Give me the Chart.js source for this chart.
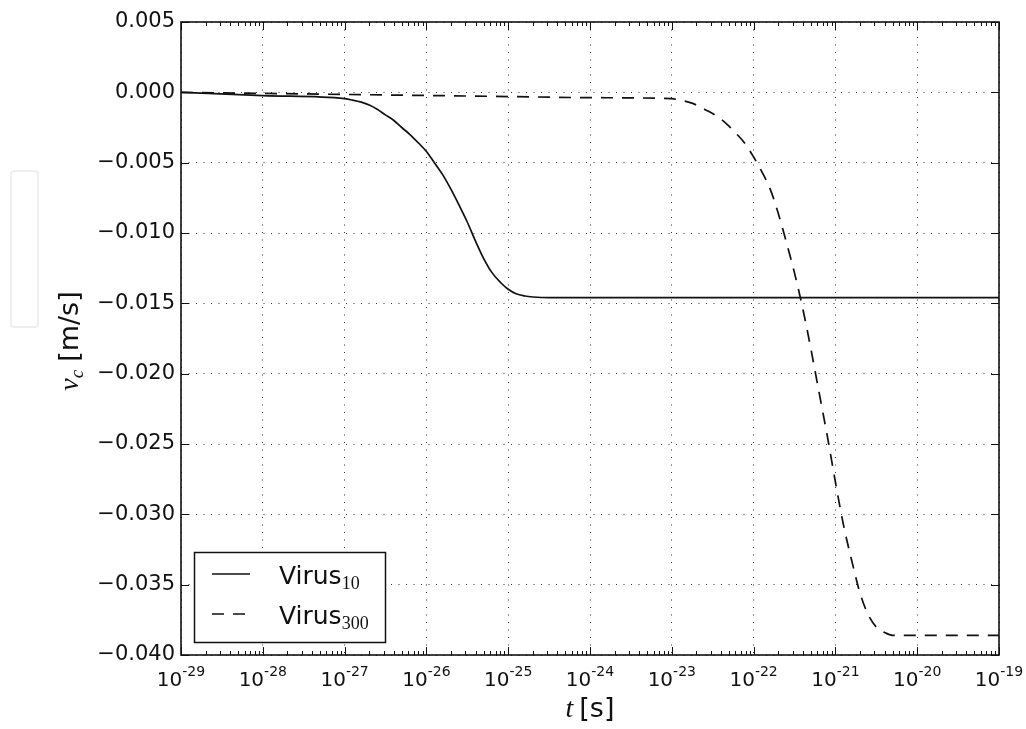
<!DOCTYPE html>
<html>
<head>
<meta charset="utf-8">
<script src="https://cdn.jsdelivr.net/npm/chart.js@4.4.0/dist/chart.umd.min.js"></script>
<style>
  html, body { margin: 0; padding: 0; background: #fff; }
  #wrap { position: relative; width: 1026px; height: 729px; }
  #side { position: absolute; left: 10px; top: 170px; width: 25px; height: 154px; border: 2px solid #eef0f0; border-radius: 4px; }
</style>
</head>
<body>
<div id="wrap">
  <canvas id="velocityChart" width="1026" height="729"></canvas>
  <div id="side"></div>
</div>
<script>
// major x ticks, as powers of ten (seconds)
const decades = [-29, -28, -27, -26, -25, -24, -23, -22, -21, -20, -19];
const yMin = -0.040;
const yMax = 0.005;
const yStep = 0.005;

// Virus_10 : centre velocity vs time
const tVirus10 = [1e-29, 1e-28, 1e-27, 1.25e-27, 1.6e-27, 2e-27, 2.5e-27, 3.15e-27, 4e-27, 5e-27, 6.3e-27, 8e-27,
  1e-26, 1.25e-26, 1.6e-26, 2e-26, 2.5e-26, 3.15e-26, 4e-26, 5e-26, 6.3e-26, 8e-26,
  1e-25, 1.25e-25, 1.6e-25, 2e-25, 3.15e-25, 1e-24, 1e-23, 1e-22, 1e-21, 1e-20, 1e-19];
const vVirus10 = [0, -0.00023, -0.00045, -0.00055, -0.0007, -0.0009, -0.0012, -0.0016, -0.0020, -0.0025, -0.0030, -0.0036,
  -0.0042, -0.0050, -0.0059, -0.0069, -0.0080, -0.0092, -0.0106, -0.0118, -0.0128, -0.0135,
  -0.0140, -0.01432, -0.01448, -0.01455, -0.0146, -0.0146, -0.0146, -0.0146, -0.0146, -0.0146, -0.0146];

// Virus_300
const tVirus300 = [1e-29, 1e-27, 1e-25, 1e-24, 1e-23, 1.25e-23, 1.6e-23, 2e-23, 2.5e-23, 3.15e-23, 4e-23, 5e-23, 6.3e-23, 8e-23,
  1e-22, 1.25e-22, 1.6e-22, 2e-22, 2.5e-22, 3.15e-22, 4e-22, 5e-22, 6.3e-22, 8e-22,
  1e-21, 1.25e-21, 1.6e-21, 2e-21, 2.5e-21, 3.15e-21, 4e-21, 5e-21, 1e-20, 1e-19];
const vVirus300 = [0, -0.00015, -0.0003, -0.00038, -0.00045, -0.00055, -0.0007, -0.0009, -0.0012, -0.0015, -0.0019, -0.0024, -0.0030, -0.0037,
  -0.0046, -0.0056, -0.0069, -0.0086, -0.0106, -0.0128, -0.0154, -0.0182, -0.0213, -0.0245,
  -0.0277, -0.0307, -0.0334, -0.0356, -0.0371, -0.0380, -0.0384, -0.0386, -0.0386, -0.0386];

const seriesNames = ['Virus', 'Virus'];
const seriesSubs = ['10', '300'];

const SANS = '"DejaVu Sans", sans-serif';
const SERIF = '"Liberation Serif", "DejaVu Serif", serif';
const INK = '#111';

const toPoints = (ts, vs) => ts.map((t, i) => ({ x: t, y: vs[i] }));

// draws pieces of text one after another, each with its own font and baseline shift
function drawRun(ctx, parts, x, y, align) {
  let total = 0;
  parts.forEach(p => { ctx.font = p.font; p.w = ctx.measureText(p.text).width; total += p.w + (p.gap || 0); });
  let cx = align === 'center' ? x - total / 2 : x;
  parts.forEach(p => {
    ctx.font = p.font;
    ctx.fillText(p.text, cx, y + (p.dy || 0));
    cx += p.w + (p.gap || 0);
  });
}

const axesDecor = {
  id: 'axesDecor',
  afterDatasetsDraw(chart) {
    const { ctx, chartArea: a, scales: { x, y } } = chart;
    ctx.save();
    ctx.strokeStyle = INK;
    ctx.fillStyle = INK;
    ctx.lineWidth = 1;

    // inward tick marks, top and bottom
    ctx.beginPath();
    const vTick = (px, len) => {
      px = Math.round(px) + 0.5;
      ctx.moveTo(px, a.bottom); ctx.lineTo(px, a.bottom - len);
      ctx.moveTo(px, a.top); ctx.lineTo(px, a.top + len);
    };
    decades.forEach((e, i) => {
      const base = Math.pow(10, e);
      vTick(x.getPixelForValue(base), 8);
      if (i < decades.length - 1) {
        for (let m = 2; m <= 9; m++) vTick(x.getPixelForValue(m * base), 4);
      }
    });
    // left and right
    y.ticks.forEach(t => {
      const py = Math.round(y.getPixelForValue(t.value)) + 0.5;
      ctx.moveTo(a.left, py); ctx.lineTo(a.left + 8, py);
      ctx.moveTo(a.right, py); ctx.lineTo(a.right - 8, py);
    });
    ctx.stroke();

    // frame
    ctx.lineWidth = 1.6;
    ctx.strokeRect(a.left, a.top, a.width, a.height);

    // x tick labels 10^n
    ctx.textBaseline = 'alphabetic';
    decades.forEach(e => {
      const px = x.getPixelForValue(Math.pow(10, e));
      drawRun(ctx, [
        { text: '10', font: '20px ' + SANS },
        { text: String(e), font: '14px ' + SANS, dy: -10 }
      ], px, 686, 'center');
    });

    // axis titles
    drawRun(ctx, [
      { text: 't', font: 'italic 28px ' + SERIF, gap: 6 },
      { text: '[s]', font: '27px ' + SANS }
    ], 590, 717, 'center');

    ctx.save();
    ctx.translate(78, 341);
    ctx.rotate(-Math.PI / 2);
    drawRun(ctx, [
      { text: 'v', font: 'italic 28px ' + SERIF },
      { text: 'c', font: 'italic 19px ' + SERIF, dy: 5, gap: 8 },
      { text: '[m/s]', font: '27px ' + SANS }
    ], 0, 0, 'center');
    ctx.restore();

    // legend
    const box = { x: 194.5, y: 552.5, w: 191, h: 90 };
    ctx.fillStyle = '#fff';
    ctx.fillRect(box.x, box.y, box.w, box.h);
    ctx.lineWidth = 1.5;
    ctx.strokeRect(box.x, box.y, box.w, box.h);
    ctx.fillStyle = INK;
    chart.data.datasets.forEach((ds, i) => {
      const ly = 574 + i * 40;
      ctx.save();
      ctx.lineWidth = ds.borderWidth;
      ctx.setLineDash(ds.borderDash || []);
      ctx.beginPath();
      ctx.moveTo(212, ly); ctx.lineTo(250, ly);
      ctx.stroke();
      ctx.restore();
      drawRun(ctx, [
        { text: seriesNames[i], font: '25px ' + SANS },
        { text: seriesSubs[i], font: '18px ' + SERIF, dy: 5 }
      ], 279, ly + 10, 'left');
    });

    ctx.restore();
  }
};

new Chart(document.getElementById('velocityChart'), {
  type: 'line',
  data: {
    datasets: [
      {
        label: 'Virus_10',
        data: toPoints(tVirus10, vVirus10),
        borderColor: INK,
        borderWidth: 1.7,
        pointRadius: 0,
        cubicInterpolationMode: 'monotone',
        fill: false
      },
      {
        label: 'Virus_300',
        data: toPoints(tVirus300, vVirus300),
        borderColor: INK,
        borderWidth: 1.7,
        borderDash: [12, 9],
        pointRadius: 0,
        cubicInterpolationMode: 'monotone',
        fill: false
      }
    ]
  },
  options: {
    responsive: false,
    animation: false,
    devicePixelRatio: 1,
    layout: { padding: { top: 22, right: 27, left: 0, bottom: 0 } },
    plugins: { legend: { display: false }, tooltip: { enabled: false } },
    scales: {
      x: {
        type: 'logarithmic',
        min: 1e-29,
        max: 1e-19,
        ticks: { display: false },
        grid: { color: '#333', lineWidth: 1, drawTicks: false },
        border: { display: false, dash: [1, 6.5] },
        afterBuildTicks(s) { s.ticks = decades.map(e => ({ value: Math.pow(10, e) })); },
        afterFit(s) { s.height = 74; }
      },
      y: {
        min: yMin,
        max: yMax,
        ticks: {
          stepSize: yStep,
          padding: 6,
          color: INK,
          font: { family: SANS, size: 21 },
          callback: v => (Math.abs(v) < 1e-9 ? 0 : v).toFixed(3).replace('-', '\u2212')
        },
        grid: { color: '#333', lineWidth: 1, drawTicks: false },
        border: { display: false, dash: [1, 6.5] },
        afterFit(s) { s.width = 181; }
      }
    }
  },
  plugins: [axesDecor]
});
</script>
</body>
</html>
